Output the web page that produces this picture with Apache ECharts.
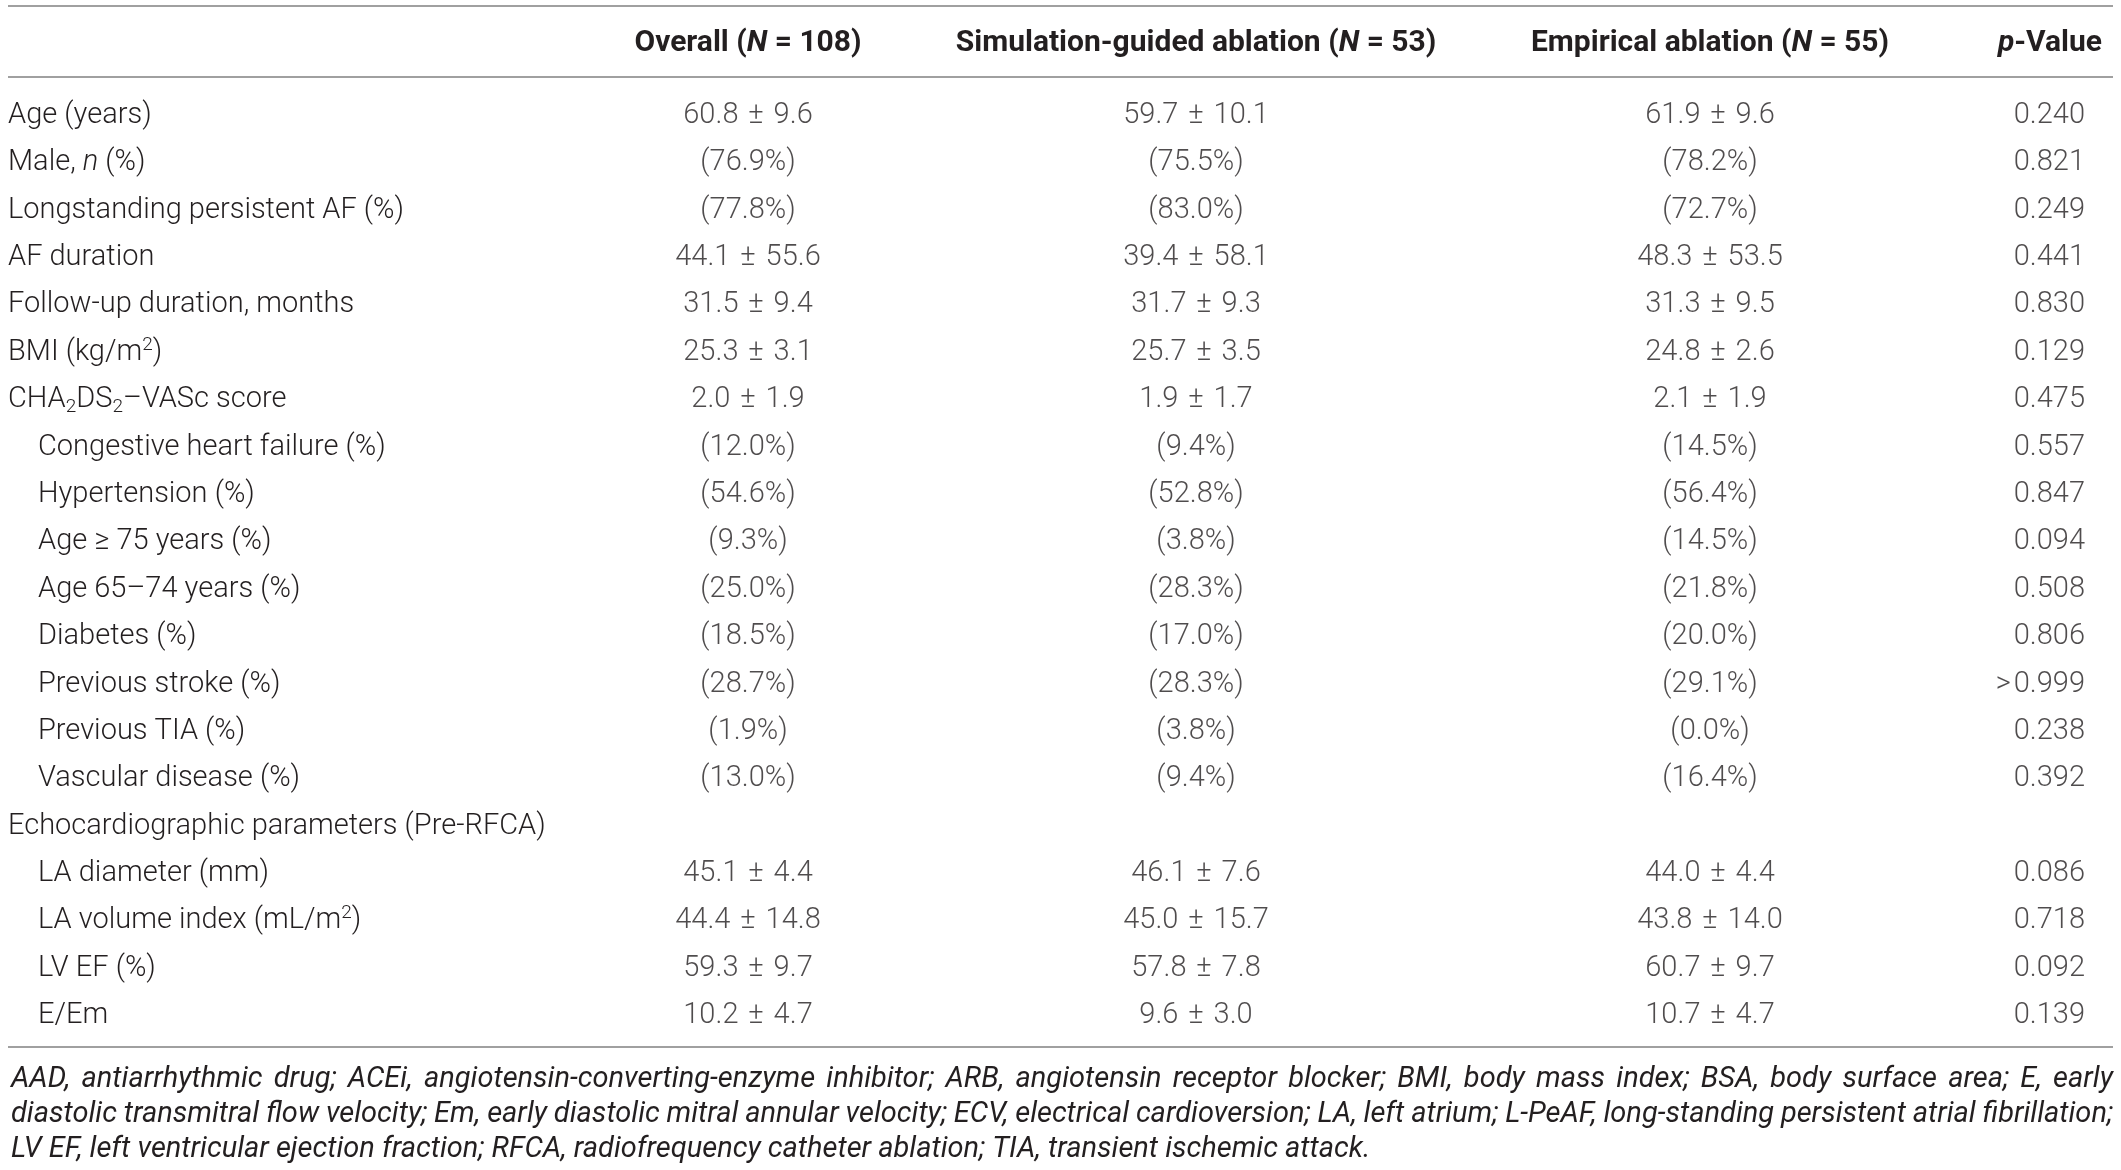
<!DOCTYPE html>
<html>
<head>
    <meta charset="utf-8">
    <title>Baseline characteristics</title>
    <script src="https://cdn.jsdelivr.net/npm/echarts@6/dist/echarts.min.js"></script>
    <style>
        html, body { margin: 0; padding: 0; background: #fff; }
        #main { width: 2121px; height: 1170px; }
    </style>
</head>
<body>
    <div id="main"></div>
    <script type="text/javascript">

// ---- data -------------------------------------------------------------
var rowLabels = [
    'Age (years)',
    'Male, {i|n} (%)',
    'Longstanding persistent AF (%)',
    'AF duration',
    'Follow-up duration, months',
    'BMI (kg/m{sup|2})',
    'CHA{sub|2}DS{sub|2}–VASc score',
    'Congestive heart failure (%)',
    'Hypertension (%)',
    'Age ≥ 75 years (%)',
    'Age 65–74 years (%)',
    'Diabetes (%)',
    'Previous stroke (%)',
    'Previous TIA (%)',
    'Vascular disease (%)',
    'Echocardiographic parameters (Pre-RFCA)',
    'LA diameter (mm)',
    'LA volume index (mL/m{sup|2})',
    'LV EF (%)',
    'E/Em'
];
var rowIndent = [0, 0, 0, 0, 0, 0, 0, 1, 1, 1, 1, 1, 1, 1, 1, 0, 1, 1, 1, 1];

var headers = [
    'Overall ({bi|N} = 108)',
    'Simulation-guided ablation ({bi|N} = 53)',
    'Empirical ablation ({bi|N} = 55)',
    '{bi|p}-Value'
];

// [mean, sd] or [percent]
var overall = [[60.8, 9.6], [76.9], [77.8], [44.1, 55.6], [31.5, 9.4], [25.3, 3.1], [2.0, 1.9],
    [12.0], [54.6], [9.3], [25.0], [18.5], [28.7], [1.9], [13.0], null,
    [45.1, 4.4], [44.4, 14.8], [59.3, 9.7], [10.2, 4.7]];
var simulation = [[59.7, 10.1], [75.5], [83.0], [39.4, 58.1], [31.7, 9.3], [25.7, 3.5], [1.9, 1.7],
    [9.4], [52.8], [3.8], [28.3], [17.0], [28.3], [3.8], [9.4], null,
    [46.1, 7.6], [45.0, 15.7], [57.8, 7.8], [9.6, 3.0]];
var empirical = [[61.9, 9.6], [78.2], [72.7], [48.3, 53.5], [31.3, 9.5], [24.8, 2.6], [2.1, 1.9],
    [14.5], [56.4], [14.5], [21.8], [20.0], [29.1], [0.0], [16.4], null,
    [44.0, 4.4], [43.8, 14.0], [60.7, 9.7], [10.7, 4.7]];
var pValues = [0.240, 0.821, 0.249, 0.441, 0.830, 0.129, 0.475, 0.557, 0.847, 0.094, 0.508,
    0.806, '>0.999', 0.238, 0.392, null, 0.086, 0.718, 0.092, 0.139];

var footnote = [
    'AAD, antiarrhythmic drug; ACEi, angiotensin-converting-enzyme inhibitor; ARB, angiotensin receptor blocker; BMI, body mass index; BSA, body surface area; E, early',
    'diastolic transmitral flow velocity; Em, early diastolic mitral annular velocity; ECV, electrical cardioversion; LA, left atrium; L-PeAF, long-standing persistent atrial fibrillation;',
    'LV EF, left ventricular ejection fraction; RFCA, radiofrequency catheter ablation; TIA, transient ischemic attack.'
];

// ---- layout -----------------------------------------------------------
var FONT = 'Roboto';
var INK = '#231f20';
var RULE = '#a0a0a0';
var TOP = 92;
var ROW_H = 47.38;
var colCenter = [748, 1196, 1710, 2102];
var colWidth = 200;
var ruleY = [6, 77, 1047];
var ruleX = [8, 2113];
var noteY = [1080, 1115, 1150];
var noteFont = 'italic 29px Roboto';

function fmtCell(v) {
    if (v == null) return null;
    if (typeof v === 'string') return v.replace('>', '>\u200A');
    if (typeof v === 'number') return v.toFixed(3);
    if (v.length === 2) return v[0].toFixed(1) + '\u2004±\u2004' + v[1].toFixed(1);
    return '(' + v[0].toFixed(1) + '%)';
}

var columns = [overall, simulation, empirical, pValues];
var gridHeight = rowLabels.length * ROW_H;

var baseText = { fontFamily: FONT, fontSize: 29, fontWeight: 300, color: INK };
var richRow = {
    ind: { width: 30 },
    i: { fontFamily: FONT, fontSize: 29, fontWeight: 300, fontStyle: 'italic', color: INK },
    sup: { fontFamily: FONT, fontSize: 19, fontWeight: 300, color: INK, verticalAlign: 'top', lineHeight: 19 },
    sub: { fontFamily: FONT, fontSize: 19, fontWeight: 300, color: INK, verticalAlign: 'bottom', lineHeight: 19 }
};

var grids = [], xAxes = [], yAxes = [], series = [];
columns.forEach(function (col, c) {
    grids.push({
        left: colCenter[c] - colWidth / 2,
        width: colWidth,
        top: TOP,
        height: gridHeight,
        outerBoundsMode: 'none'
    });
    xAxes.push({
        type: 'category',
        gridIndex: c,
        position: 'top',
        data: [headers[c]],
        axisLine: { show: false },
        axisTick: { show: false },
        splitLine: { show: false },
        axisLabel: {
            interval: 0,
            hideOverlap: false,
            margin: 31,
            align: c === 3 ? 'right' : 'center',
            fontFamily: FONT,
            fontSize: 30,
            fontWeight: 'bold',
            color: INK,
            lineHeight: 36,
            rich: {
                bi: { fontFamily: FONT, fontSize: 30, fontWeight: 'bold', fontStyle: 'italic', color: INK, lineHeight: 36 }
            }
        }
    });
    yAxes.push({
        type: 'category',
        gridIndex: c,
        inverse: true,
        data: rowLabels,
        show: c === 0,
        axisLine: { show: false },
        axisTick: { show: false },
        splitLine: { show: false },
        axisLabel: {
            interval: 0,
            hideOverlap: false,
            align: 'left',
            margin: colCenter[0] - colWidth / 2 - 8,
            fontFamily: FONT,
            fontSize: 29,
            fontWeight: 300,
            color: INK,
            lineHeight: 34,
            rich: richRow,
            formatter: function (value, idx) {
                return (rowIndent[idx] ? '{ind|}' : '') + value;
            }
        }
    });
    var data = [];
    col.forEach(function (v, i) {
        var txt = fmtCell(v);
        if (txt != null) data.push({ name: txt, value: [0, i] });
    });
    series.push({
        type: 'scatter',
        xAxisIndex: c,
        yAxisIndex: c,
        symbolSize: 1,
        itemStyle: { color: 'rgba(0,0,0,0)' },
        silent: true,
        data: data,
        label: {
            show: true,
            position: 'inside',
            align: c === 3 ? 'right' : 'center',
            offset: c === 3 ? [-17, 0] : [0, 0],
            formatter: function (p) { return p.name; },
            fontFamily: FONT,
            fontSize: 29,
            fontWeight: 300,
            color: INK
        },
        emphasis: { disabled: true }
    });
});

// ---- rules and footnote (justified like the printed table) -------------
var graphics = ruleY.map(function (y) {
    return {
        type: 'line',
        shape: { x1: ruleX[0], y1: y, x2: ruleX[1], y2: y },
        style: { stroke: RULE, lineWidth: 2 },
        silent: true
    };
});

var ctx = document.createElement('canvas').getContext('2d');
ctx.font = noteFont;
footnote.forEach(function (line, li) {
    var justify = li < footnote.length - 1;
    var words = line.split(' ');
    var widths = words.map(function (w) { return ctx.measureText(w).width; });
    var total = widths.reduce(function (a, b) { return a + b; }, 0);
    var gap = justify
        ? (ruleX[1] - ruleX[0] - 3 - total) / (words.length - 1)
        : ctx.measureText(' ').width;
    var x = ruleX[0] + 3;
    words.forEach(function (w, k) {
        graphics.push({
            type: 'text',
            x: x,
            y: noteY[li],
            silent: true,
            style: {
                text: w,
                font: noteFont,
                fill: INK,
                textAlign: 'left',
                textVerticalAlign: 'middle',
                verticalAlign: 'middle'
            }
        });
        x += widths[k] + gap;
    });
});

var myChart = echarts.init(document.getElementById('main'));
myChart.setOption({
    animation: false,
    backgroundColor: '#fff',
    textStyle: baseText,
    grid: grids,
    xAxis: xAxes,
    yAxis: yAxes,
    series: series,
    graphic: graphics
});
    </script>
</body>
</html>
